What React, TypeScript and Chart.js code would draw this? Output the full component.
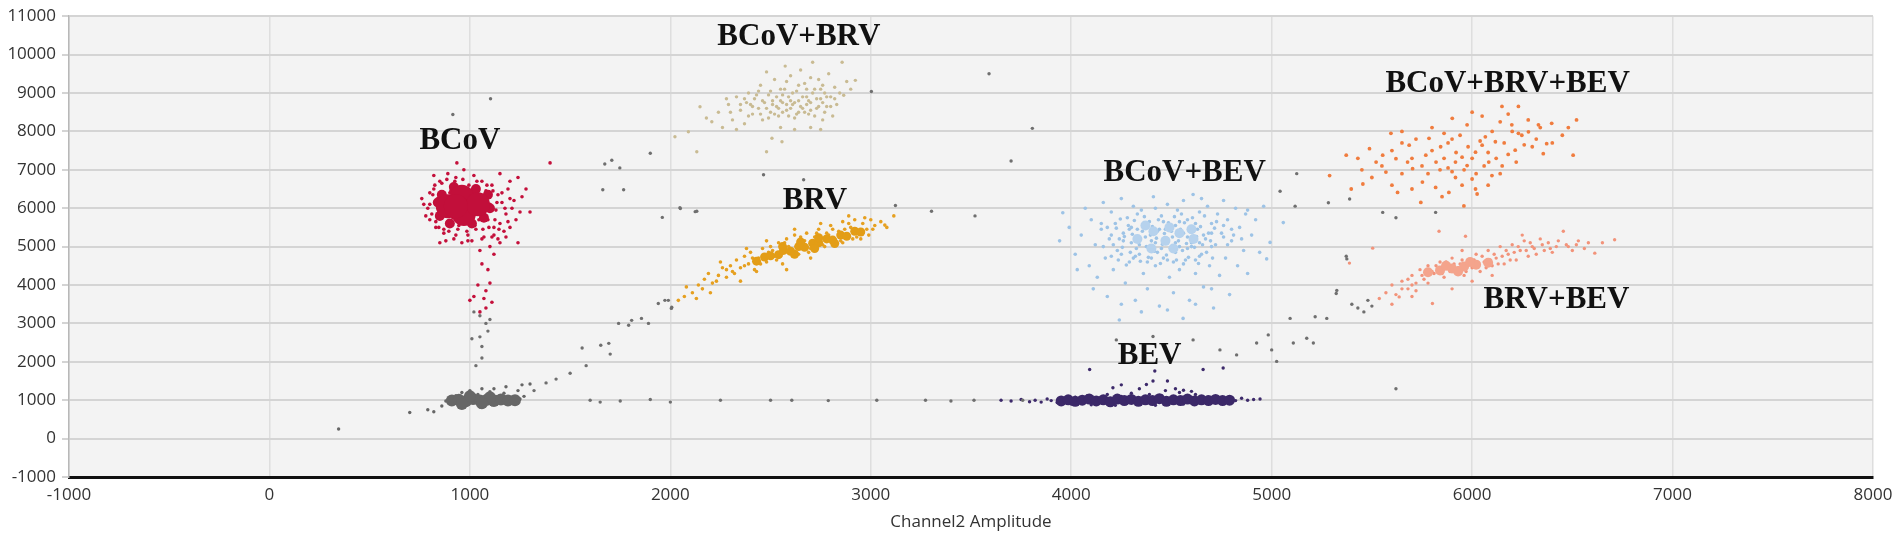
import { useEffect, useRef } from 'react';
import { Chart, registerables } from 'chart.js';

Chart.register(...registerables);

type Pt = [number, number];

// axis ticks
const xTicks = [-1000, 0, 1000, 2000, 3000, 4000, 5000, 6000, 7000, 8000];
const yTicks = [-1000, 0, 1000, 2000, 3000, 4000, 5000, 6000, 7000, 8000, 9000, 10000, 11000];

// cluster names and where their labels sit (amplitude units)
const clusterNames = ['BCoV', 'BCoV+BRV', 'BRV', 'BCoV+BEV', 'BEV', 'BCoV+BRV+BEV', 'BRV+BEV'];
const labelX = [950, 2641, 2721, 4566, 4391, 6177, 6421];
const labelY = [7760, 10460, 6193, 6913, 2157, 9226, 3622];

// droplets: [Channel2, Channel1]
// "core" lists mark the spots where droplets pile up into a solid blob
const bcovPts: Pt[] = [
  [760, 6250], [790, 6000], [800, 5700], [820, 6500], [830, 5500], [850, 6700], [860, 6150], [870, 5350], [880, 5900], [890, 6900],
  [900, 6400], [905, 5600], [920, 5200], [930, 6800], [940, 5450], [950, 6300], [960, 5800], [970, 7000], [980, 6500], [990, 5300],
  [1000, 6050], [1010, 5650], [1020, 6850], [1030, 5450], [1040, 6250], [1050, 5900], [1060, 6700], [1070, 5250], [1080, 6450], [1090, 5700],
  [1100, 6100], [1110, 6600], [1120, 5500], [1130, 5950], [1140, 6350], [1150, 5600], [1160, 6150], [1170, 5400], [1180, 5850], [1190, 6500],
  [1210, 6000], [1230, 5700], [1240, 6800], [1260, 6300], [1280, 6500], [1300, 5900], [1400, 7180], [935, 7180], [1240, 5100], [1180, 5250],
  [1100, 5000], [1050, 4900], [1120, 4800], [1060, 4550], [1090, 4400], [1040, 4000], [1020, 3700], [1070, 3650], [1110, 3550], [1000, 3600],
  [1080, 3400], [1050, 3300], [1100, 4050], [1080, 3850], [850, 5100], [780, 5800], [820, 6850], [1150, 6900], [1200, 6700], [880, 5150],
  [1010, 5150], [960, 5100], [1140, 5200], [1200, 5500], [1220, 6200], [800, 6400], [770, 6100], [1250, 5900],
  [800, 6100], [810, 5850], [815, 6350], [825, 6600], [830, 5650], [840, 6250], [845, 5500], [860, 6650], [870, 5450], [875, 6000],
  [885, 6750], [895, 5400], [905, 6450], [915, 5750], [925, 6700], [945, 5550], [955, 6150], [965, 6750], [985, 5400], [995, 6600],
  [1005, 5900], [1015, 6400], [1025, 5550], [1035, 6700], [1045, 5700], [1055, 6350], [1065, 5450], [1075, 6150], [1085, 6600], [1095, 5500],
  [1105, 5950], [1115, 6450], [1125, 5700], [1135, 6150], [1145, 5450], [1160, 6400], [1175, 6000], [1190, 5650], [1200, 6250], [1120, 5300],
  [1060, 5200], [990, 5150], [930, 5300], [1150, 5100], [1110, 5250],
];
const bcovCore: Pt[] = [[890, 6050], [960, 6300], [970, 5850], [1040, 6100], [930, 6050]];
const bcovRim: Pt[] = [
  [850, 5800], [860, 6350], [920, 6550], [900, 5600], [1010, 5600], [1070, 5750], [1090, 6350], [1030, 6500], [1100, 6000], [840, 6150],
];

const brvPts: Pt[] = [
  [2040, 3600], [2070, 3700], [2080, 3950], [2110, 3800], [2140, 4000], [2170, 4150], [2190, 4300], [2210, 4050], [2240, 4250], [2260, 4450],
  [2280, 4200], [2300, 4500], [2310, 4350], [2330, 4650], [2350, 4450], [2370, 4750], [2390, 4550], [2400, 4850], [2420, 4400], [2440, 4700],
  [2460, 4950], [2480, 4600], [2500, 5000], [2520, 4750], [2540, 5100], [2560, 4850], [2580, 5200], [2600, 4950], [2620, 5300], [2640, 4800],
  [2660, 5150], [2680, 5350], [2700, 4950], [2720, 5250], [2740, 5450], [2760, 5050], [2780, 5350], [2800, 5550], [2820, 5150], [2840, 5400],
  [2860, 5650], [2880, 5250], [2900, 5500], [2920, 5700], [2940, 5350], [2960, 5600], [2980, 5450], [3000, 5700], [3020, 5550], [3050, 5650],
  [3080, 5500], [3115, 5800], [3070, 5560], [2950, 5200], [2860, 5100], [2700, 4700], [2560, 4550], [2430, 4350], [2350, 4100], [2200, 3800],
  [2130, 3650], [2480, 5150], [2620, 5450], [2580, 4400], [2750, 5600], [2890, 5800], [2250, 4600], [2380, 4950],
  [2990, 5300], [3010, 5450], [2970, 5750], [2910, 5200], [2320, 4300], [2280, 4400], [2230, 4100], [2160, 3900],
  [2450, 4550], [2490, 4850], [2530, 4650], [2570, 5100], [2610, 4750], [2650, 5250], [2690, 4850], [2730, 5350], [2770, 5000], [2810, 5450],
  [2850, 5150], [2890, 5600], [2930, 5250], [2410, 4700], [2370, 4500], [2510, 4900], [2590, 5000], [2670, 5150], [2790, 5300], [2870, 5450],
];
const brvCore: Pt[] = [
  [2430, 4620], [2470, 4730], [2500, 4760], [2540, 4790], [2565, 4900], [2600, 4880], [2640, 5000], [2670, 4980], [2710, 5090],
  [2740, 5100], [2780, 5200], [2810, 5170], [2850, 5300], [2880, 5270], [2920, 5400], [2950, 5380],
  [2560, 5000], [2650, 5120], [2740, 5230], [2620, 4800], [2720, 4950], [2820, 5080],
];

const bcovBrvPts: Pt[] = [
  [2023, 7860], [2090, 7990], [2148, 8640], [2207, 8250], [2132, 7470], [2180, 8350], [2240, 8500], [2260, 8100], [2290, 8700], [2310, 8300],
  [2330, 8900], [2350, 8550], [2370, 8200], [2390, 9000], [2400, 8700], [2410, 8450], [2420, 8850], [2440, 8600], [2450, 9200], [2460, 8300],
  [2470, 8750], [2480, 7470], [2490, 8950], [2500, 8500], [2510, 8800], [2520, 9350], [2530, 8650], [2540, 8400], [2550, 9100], [2557, 7730],
  [2560, 8750], [2573, 9700], [2580, 8550], [2590, 8900], [2600, 9450], [2610, 8700], [2620, 8350], [2630, 9050], [2640, 8800], [2650, 9600],
  [2660, 8600], [2670, 9250], [2680, 8900], [2690, 8450], [2700, 8750], [2710, 9800], [2720, 9100], [2730, 8600], [2740, 9350], [2750, 8850],
  [2760, 8300], [2770, 9000], [2780, 8650], [2790, 9500], [2800, 8900], [2810, 8400], [2820, 9150], [2830, 8700], [2845, 9000], [2857, 9800],
  [2865, 8940], [2880, 9300], [2900, 9100], [2923, 9330], [2507, 7820], [2620, 8050], [2700, 8100], [2750, 8050], [2550, 8100], [2380, 8750],
  [2330, 8050], [2480, 9550], [2600, 8800], [2680, 8700], [2560, 8950], [2640, 8500],
  [2350, 8700], [2370, 8850], [2390, 8400], [2410, 8650], [2430, 8950], [2450, 8450], [2460, 8800], [2480, 8600], [2490, 8350], [2500, 9050],
  [2510, 8700], [2520, 8450], [2530, 8900], [2540, 8600], [2550, 8800], [2560, 8500], [2570, 9100], [2580, 8700], [2590, 8400], [2600, 8600],
  [2610, 9000], [2620, 8750], [2630, 8450], [2640, 9200], [2650, 8650], [2660, 8900], [2670, 8500], [2680, 9100], [2690, 8800], [2700, 8550],
  [2710, 9000], [2720, 8400], [2730, 8850], [2740, 8650], [2750, 9100], [2760, 8750], [2770, 8500], [2780, 8900], [2800, 8650], [2820, 8850],
  [2440, 9050], [2580, 9300], [2700, 9400], [2760, 9200], [2300, 8500], [2280, 8850],
];

const bcovBevPts: Pt[] = [
  [3942, 5150], [3958, 5880], [3990, 5500], [4020, 4800], [4050, 5300], [4070, 6000], [4090, 4500], [4100, 5700], [4120, 5050], [4130, 4200],
  [4150, 5450], [4160, 6150], [4170, 4700], [4180, 3700], [4190, 5200], [4200, 5900], [4210, 4400], [4220, 5600], [4230, 4900], [4240, 3087],
  [4250, 6250], [4260, 5350], [4270, 4050], [4280, 5750], [4290, 4600], [4300, 5100], [4310, 6050], [4320, 3600], [4330, 5450], [4340, 4800],
  [4350, 5950], [4360, 4300], [4370, 5250], [4380, 3900], [4390, 5650], [4400, 4950], [4410, 6300], [4420, 4500], [4430, 5400], [4440, 3450],
  [4450, 5800], [4460, 4700], [4470, 5100], [4480, 6100], [4490, 4200], [4500, 5550], [4510, 3800], [4520, 4850], [4530, 5950], [4540, 4400],
  [4550, 5300], [4558, 3130], [4560, 6200], [4570, 4650], [4580, 5700], [4590, 3600], [4600, 5000], [4608, 6355], [4620, 4300], [4630, 5450],
  [4640, 5900], [4650, 4800], [4660, 3950], [4670, 5200], [4680, 6050], [4690, 4500], [4700, 5600], [4710, 3400], [4720, 5050], [4730, 5850],
  [4740, 4250], [4750, 5350], [4760, 6200], [4770, 4700], [4780, 5700], [4790, 3750], [4800, 5150], [4820, 6000], [4830, 4500], [4840, 5500],
  [4860, 4900], [4870, 5850], [4880, 4300], [4900, 5300], [4920, 5700], [4940, 4850], [4960, 6050], [4975, 4680], [4992, 5110], [5058, 5625],
  [4030, 4400], [4110, 3900], [4250, 3500], [4350, 3300], [4480, 3350], [4620, 3500], [4700, 3900], [4160, 5000], [4420, 6000], [4650, 6250],
  [4880, 5950], [4380, 4600], [4520, 5100], [4600, 5250], [4450, 4950],
  [4240, 5200], [4310, 4700], [4360, 5500], [4430, 4850], [4470, 5450], [4540, 5650], [4580, 4950], [4640, 5100], [4700, 5350], [4760, 5550],
  [4810, 5300], [4290, 5450], [4400, 5150], [4510, 4600], [4620, 4650], [4550, 5850], [4330, 5850], [4850, 5200], [4200, 4750], [4150, 5600],
  [4210, 5050], [4225, 5480], [4235, 4650], [4245, 5720], [4255, 4980], [4265, 5260], [4275, 4520], [4285, 5550], [4295, 4850], [4305, 5320],
  [4315, 5680], [4325, 4950], [4335, 5150], [4345, 4620], [4355, 5400], [4365, 5780], [4375, 5000], [4385, 4720], [4395, 5300], [4405, 5520],
  [4415, 4880], [4425, 5220], [4435, 5700], [4445, 4560], [4455, 5060], [4465, 5340], [4475, 4780], [4485, 5620], [4495, 4950], [4505, 5250],
  [4515, 5780], [4525, 4650], [4535, 5150], [4545, 5450], [4555, 4900], [4565, 5620], [4575, 5080], [4585, 4720], [4595, 5380], [4605, 5750],
  [4615, 4980], [4625, 5260], [4635, 4560], [4645, 5520], [4655, 5050], [4665, 5800], [4675, 4850], [4685, 5350], [4695, 5150], [4705, 4700],
  [4715, 5480], [4725, 5650], [4260, 5150], [4300, 5500], [4340, 5050], [4380, 5600], [4420, 5100], [4460, 5650], [4500, 5400], [4540, 5000],
  [4580, 5250], [4620, 5600], [4660, 5300], [4700, 5000], [4440, 5450], [4480, 5200], [4520, 5550], [4560, 5350], [4600, 5100], [4400, 4700],
  [4480, 4650], [4560, 4550], [4640, 4750], [4320, 4750], [4250, 4800], [4200, 5300], [4180, 5500], [4760, 5250], [4780, 5050], [4800, 5450],
];
const bcovBevCore: Pt[] = [
  [4330, 5200], [4410, 5400], [4470, 5150], [4540, 5350], [4610, 5200], [4400, 4950], [4510, 4950], [4370, 5550], [4490, 5500], [4600, 5450],
];

const bevPts: Pt[] = [
  [3650, 1000], [3700, 980], [3750, 1020], [3792, 960], [3820, 1000], [3850, 950], [3880, 1030], [3900, 990], [3930, 940], [3950, 1050],
  [3980, 1000], [4000, 900], [4020, 1080], [4050, 960], [4080, 1120], [4100, 880], [4130, 1050], [4160, 940], [4180, 1150], [4208, 1325],
  [4220, 870], [4250, 1100], [4280, 980], [4300, 1180], [4330, 900], [4360, 1060], [4375, 1410], [4390, 1150], [4408, 1500], [4417, 1760],
  [4420, 870], [4450, 1120], [4470, 1250], [4480, 960], [4510, 1080], [4520, 1300], [4540, 1200], [4560, 900], [4580, 1100], [4600, 1000],
  [4620, 1150], [4650, 950], [4680, 1080], [4700, 1010], [4730, 1050], [4760, 960], [4790, 1030], [4820, 990], [4850, 1050], [4880, 1000],
  [4910, 1020], [4942, 1030], [4560, 1260], [4600, 1230], [4340, 1300], [4250, 1400], [4480, 1500], [4092, 1800], [4658, 1800], [4758, 1840],
];
const bevCore: Pt[] = [
  [3950, 980], [3985, 1010], [4020, 970], [4055, 1000], [4090, 1030], [4125, 980], [4160, 1010], [4195, 960], [4230, 1030],
  [4265, 990], [4300, 1020], [4335, 970], [4370, 1010], [4405, 990], [4440, 1040], [4475, 970], [4510, 1010], [4545, 990],
  [4580, 1030], [4615, 980], [4650, 1010], [4685, 990], [4720, 1020], [4755, 990], [4790, 1000],
];

const tripleePts: Pt[] = [
  [6149, 8650], [6231, 8650], [6521, 8300], [5975, 8170], [5901, 8340], [6140, 8250], [6198, 8170], [6331, 8170], [6397, 8210], [5595, 7950],
  [5678, 7200], [5488, 7550], [5372, 7380], [5289, 6850], [5843, 7600], [5950, 7330], [6017, 7460], [6116, 7730], [6248, 7900], [6372, 7680],
  [6504, 7380], [6355, 7420], [6083, 7200], [6099, 6850], [6000, 6760], [5917, 6800], [5818, 6540], [5752, 6680], [5628, 6410], [5397, 6500],
  [5455, 6630], [6017, 6500], [6025, 6370], [5959, 6060], [5884, 6410], [5744, 6150], [5570, 6940], [5554, 7380], [5686, 7640], [5785, 7820],
  [5860, 7950], [5917, 7200], [5975, 7110], [5769, 7380], [6066, 7860], [6215, 7510], [6231, 7950], [6281, 7990], [6050, 7640], [5620, 7290],
  [5703, 7030], [5521, 7200], [5880, 7050], [6150, 7100], [5650, 7700], [6300, 7600],
  [5550, 7100], [5600, 7500], [5650, 6900], [5700, 7300], [5720, 7800], [5750, 7100], [5780, 6900], [5800, 7500], [5820, 7200], [5840, 7000],
  [5860, 7300], [5880, 7700], [5900, 6950], [5920, 7450], [5940, 7900], [5960, 7000], [5980, 7600], [6000, 7300], [6020, 6900], [6040, 7750],
  [6060, 7100], [6080, 7450], [6100, 8000], [6120, 7300], [6140, 6900], [6160, 7700], [6180, 7400], [6200, 8000], [6220, 7200], [6260, 7650],
  [6280, 8300], [6320, 7800], [6340, 8100], [6400, 7700], [6450, 7900], [6480, 8100], [5450, 7000], [5500, 6800], [5600, 6600], [5700, 6500],
  [5850, 6300], [5950, 6600], [6080, 6600], [5430, 7300], [5650, 8000], [5800, 8100], [6050, 8400], [6180, 8450], [6000, 8500], [5900, 7800],
];

const brvBevPts: Pt[] = [
  [5388, 4570], [5504, 4960], [5537, 3650], [5570, 3800], [5600, 4000], [5636, 3690], [5650, 4100], [5680, 3900], [5700, 4250], [5720, 4050],
  [5740, 4400], [5760, 4150], [5780, 4500], [5802, 3520], [5810, 4300], [5835, 5400], [5840, 4600], [5860, 4200], [5880, 4450], [5900, 4700],
  [5920, 4350], [5940, 4550], [5960, 4250], [5967, 5270], [5980, 4650], [6000, 4450], [6020, 4800], [6040, 4350], [6060, 4600], [6080, 4900],
  [6100, 4500], [6120, 4700], [6140, 5000], [6160, 4550], [6180, 4800], [6200, 5050], [6220, 4650], [6240, 4900], [6260, 5150], [6280, 4750],
  [6300, 5000], [6320, 4800], [6340, 5200], [6360, 4900], [6380, 5100], [6400, 4850], [6420, 5000], [6455, 5400], [6470, 5050], [6500, 4900],
  [6530, 5150], [6560, 4950], [6612, 4830], [6650, 5100], [6711, 5180], [5900, 3900], [6000, 4100], [6100, 4250], [5700, 3700], [5600, 3500],
  [5950, 4900], [6250, 5300],
  [5800, 4350], [5820, 4500], [5850, 4300], [5870, 4600], [5890, 4350], [5910, 4550], [5930, 4450], [5950, 4650], [5970, 4350], [5990, 4550],
  [6010, 4650], [6030, 4500], [6050, 4750], [6070, 4450], [6090, 4650], [6110, 4800], [6130, 4550], [6150, 4750], [6170, 4900], [6190, 4650],
  [6210, 4850], [6230, 5000], [6270, 4900], [6290, 5100], [6310, 4950], [6350, 5050], [6390, 4950], [6430, 5150], [6480, 5000], [6520, 5050],
  [6580, 5100], [5650, 3900], [5700, 4000], [5750, 4250], [5720, 3850], [5780, 4050], [5680, 4150], [5620, 3750],
];
const brvBevCore: Pt[] = [
  [5780, 4330], [5840, 4380], [5900, 4430], [5960, 4480], [6020, 4530], [6080, 4580], [5870, 4500], [5990, 4600], [5930, 4350],
];

const negPts: Pt[] = [
  [880, 980], [900, 1050], [910, 900], [930, 1120], [950, 950], [960, 1200], [980, 860], [990, 1080], [1000, 1250], [1020, 930],
  [1040, 1150], [1050, 820], [1060, 1300], [1080, 1000], [1100, 1220], [1110, 880], [1130, 1100], [1150, 950], [1170, 1180], [1190, 1000],
  [1210, 1080], [1230, 950], [1250, 1030], [1270, 1100], [1180, 1350], [1120, 1300], [1240, 1250], [1260, 1400], [1300, 1420], [700, 680],
  [790, 750], [820, 700], [860, 850], [345, 250],
];
const negCore: Pt[] = [
  [910, 990], [945, 1010], [980, 970], [1015, 1030], [1050, 990], [1085, 1010], [1120, 980], [1155, 1020], [1190, 990], [1225, 1000],
  [1000, 1100], [1100, 1080], [960, 900], [1060, 920],
];

const strayPts: Pt[] = [
  [1030, 1900], [1060, 2100], [1010, 2600], [1050, 2650], [1090, 2800], [1080, 3000], [1050, 3200], [1100, 3100], [1020, 3300], [1060, 2400],
  [1320, 1250], [1380, 1450], [1430, 1550], [1500, 1700], [1560, 2360], [1580, 1900], [1653, 2430], [1693, 2480], [1742, 3000], [1792, 2950],
  [1807, 3080], [1856, 3130], [1891, 3000], [1940, 3520], [1990, 3600], [2005, 3390], [1973, 3600], [2007, 3420], [1700, 2200],
  [1600, 1000], [1650, 950], [1750, 980], [1900, 1020], [2000, 950], [2250, 1000], [2500, 1000], [2606, 1000], [2788, 990], [3030, 1000],
  [3273, 1000], [3515, 1000], [3758, 1000], [3400, 980],
  [915, 8440], [1103, 8850], [1900, 7430], [1673, 7150], [1708, 7250], [1748, 7050], [1663, 6480], [1767, 6480], [1960, 5760], [2050, 5990],
  [2124, 5910], [2465, 6870], [2665, 6740], [2048, 6010], [2132, 5920], [3123, 6070], [3303, 5920], [3003, 9040], [3590, 9500], [3806, 8080],
  [3700, 7230], [3520, 5800],
  [4225, 2570], [4408, 2660], [4608, 2570], [4742, 2310], [4825, 2180], [4925, 2490], [4983, 2700], [5025, 2010], [5000, 2310], [5108, 2490],
  [5175, 2615], [5208, 2490], [5092, 3130], [5217, 3175], [5275, 3130], [5325, 3860], [5375, 4680], [5042, 6440], [5125, 6900], [5117, 6054],
  [5283, 6140], [5372, 4750], [5389, 6240], [5554, 5890], [5620, 5750], [5818, 5890], [5322, 3780], [5400, 3500], [5430, 3400], [5480, 3600],
  [5460, 3300], [5500, 3450], [5620, 1300],
];

const toXY = (pts: Pt[]) => pts.map(([x, y]) => ({ x, y }));

const plotBackground = {
  id: 'plotBackground',
  beforeDraw(chart: any) {
    const { ctx, chartArea } = chart;
    ctx.save();
    ctx.fillStyle = '#f3f3f3';
    ctx.fillRect(chartArea.left, chartArea.top, chartArea.right - chartArea.left, chartArea.bottom - chartArea.top);
    ctx.restore();
  },
};

const clusterLabels = {
  id: 'clusterLabels',
  afterDatasetsDraw(chart: any) {
    const { ctx, scales } = chart;
    ctx.save();
    ctx.font = "bold 31px 'Liberation Serif', 'Times New Roman', serif";
    ctx.fillStyle = '#111';
    ctx.textAlign = 'center';
    ctx.textBaseline = 'middle';
    clusterNames.forEach((name, i) => {
      ctx.fillText(name, scales.x.getPixelForValue(labelX[i]), scales.y.getPixelForValue(labelY[i]));
    });
    ctx.restore();
  },
};

const tickFont = { family: "'Open Sans', 'Noto Sans', sans-serif", size: 17 };

const ScatterChart = () => {
  const chartRef = useRef<HTMLCanvasElement | null>(null);
  const chartInstance = useRef<Chart | null>(null);

  useEffect(() => {
    document.body.style.margin = '0';
    if (!chartRef.current) return;
    if (chartInstance.current) chartInstance.current.destroy();

    const dots = (label: string, pts: Pt[], color: string, r = 1.7) => ({
      label,
      data: toXY(pts),
      backgroundColor: color,
      borderWidth: 0,
      pointRadius: r,
      pointHoverRadius: r,
    });

    chartInstance.current = new Chart(chartRef.current, {
      type: 'scatter',
      data: {
        datasets: [
          dots('stray', strayPts, '#6f6f6f'),
          dots('neg core', negCore, '#666666', 6),
          dots('neg', negPts, '#666666'),
          dots('BCoV+BRV', bcovBrvPts, '#c9bb93'),
          dots('BRV core', brvCore, '#e39d16', 4.5),
          dots('BRV', brvPts, '#e6a020', 1.8),
          dots('BCoV core', bcovCore, '#c20f3a', 12),
          dots('BCoV rim', bcovRim, '#c20f3a', 5),
          dots('BCoV', bcovPts, '#c4103b', 1.8),
          dots('BCoV+BEV core', bcovBevCore, '#b6d2ed', 5),
          dots('BCoV+BEV', bcovBevPts, '#9dc3e6', 1.8),
          dots('BEV core', bevCore, '#3b2868', 5.5),
          dots('BEV', bevPts, '#3d2a6b'),
          dots('BCoV+BRV+BEV', tripleePts, '#f07c3e', 1.9),
          dots('BRV+BEV core', brvBevCore, '#f4a48c', 5),
          dots('BRV+BEV', brvBevPts, '#f2937a'),
        ],
      },
      options: {
        animation: false,
        responsive: true,
        maintainAspectRatio: false,
        layout: { padding: { left: 0, right: 29, top: 13, bottom: 0 } },
        plugins: {
          legend: { display: false },
          tooltip: { enabled: false },
        },
        scales: {
          x: {
            type: 'linear',
            min: -1000,
            max: 8000,
            afterFit: (s: any) => { s.height = 63; },
            afterBuildTicks: (s: any) => { s.ticks = xTicks.map((value) => ({ value })); },
            grid: { color: '#dedede', lineWidth: 1.5, drawTicks: false },
            border: { color: '#111', width: 3 },
            ticks: {
              padding: 8,
              color: '#333',
              font: tickFont,
              callback: (v: any) => String(v),
            },
            title: {
              display: true,
              text: 'Channel2 Amplitude',
              color: '#333',
              padding: { top: 2, bottom: 8 },
              font: tickFont,
            },
          },
          y: {
            type: 'linear',
            min: -1000,
            max: 11000,
            afterFit: (s: any) => { s.width = 69; },
            afterBuildTicks: (s: any) => { s.ticks = yTicks.map((value) => ({ value })); },
            grid: { color: '#d4d4d4', lineWidth: 2, tickLength: 7 },
            border: { color: '#b8b8b8', width: 1.5 },
            ticks: {
              padding: 6,
              color: '#333',
              font: tickFont,
              callback: (v: any) => String(v),
            },
          },
        },
      },
      plugins: [plotBackground, clusterLabels],
    });

    return () => {
      if (chartInstance.current) {
        chartInstance.current.destroy();
        chartInstance.current = null;
      }
    };
  }, []);

  return (
    <div style={{ position: 'relative', width: '1902px', height: '540px', background: '#fff' }}>
      <canvas ref={chartRef}></canvas>
    </div>
  );
};

export default function App() {
  return <ScatterChart />;
}
